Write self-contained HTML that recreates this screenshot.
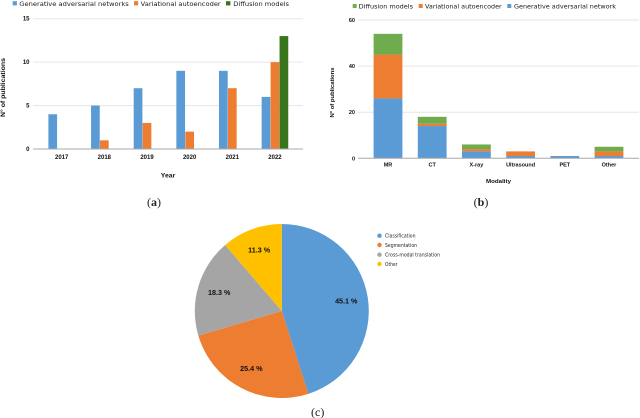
<!DOCTYPE html>
<html>
<head>
<meta charset="utf-8">
<title>Publications charts</title>
<style>
html,body{margin:0;padding:0;background:#fff;}
#fig{display:block;width:640px;height:418px;}
text{font-family:"DejaVu Sans","Liberation Sans",sans-serif;fill:#1c1c1c;}
.b{font-family:"Liberation Sans",sans-serif;font-weight:bold;fill:#111;}
.cap{font-family:"Liberation Serif",serif;font-size:12px;fill:#222;}
</style>
</head>
<body>
<svg id="fig" xmlns="http://www.w3.org/2000/svg" width="640" height="418" viewBox="0 0 640 418">
  <g id="chartA" style="filter:blur(.35px)">
    <rect x="12.7" y="1.2" width="4.2" height="4.2" fill="#5b9bd5"/>
    <text x="19.3" y="6" font-size="6.4" textLength="109.4" lengthAdjust="spacingAndGlyphs">Generative adversarial networks</text>
    <rect x="134" y="1.2" width="4.2" height="4.2" fill="#ed7d31"/>
    <text x="140.7" y="6" font-size="6.4" textLength="80" lengthAdjust="spacingAndGlyphs">Variational autoencoder</text>
    <rect x="226" y="1.2" width="4.4" height="4.2" fill="#38761d"/>
    <text x="233.3" y="6" font-size="6.4" textLength="55.7" lengthAdjust="spacingAndGlyphs">Diffusion models</text>
    <text class="b" x="168" y="177.5" font-size="6" text-anchor="middle" textLength="14.5" lengthAdjust="spacingAndGlyphs">Year</text>
    <text class="b" x="5" y="87.5" font-size="6" text-anchor="middle" textLength="59" lengthAdjust="spacingAndGlyphs" transform="rotate(-90 5 87.5)">N° of publications</text>
  </g>
  <g id="chartB" style="filter:blur(.35px)">
    <rect x="352.7" y="4" width="4" height="4" fill="#70ad47"/>
    <text x="358.7" y="8.3" font-size="6.4" textLength="54.3" lengthAdjust="spacingAndGlyphs">Diffusion models</text>
    <rect x="418.7" y="4" width="4" height="4" fill="#ed7d31"/>
    <text x="425" y="8.3" font-size="6.4" textLength="76.7" lengthAdjust="spacingAndGlyphs">Variational autoencoder</text>
    <rect x="507.3" y="4" width="4" height="4" fill="#5b9bd5"/>
    <text x="514" y="8.3" font-size="6.4" textLength="102" lengthAdjust="spacingAndGlyphs">Generative adversarial network</text>
    <text class="b" x="498.5" y="183" font-size="5.5" text-anchor="middle" textLength="25" lengthAdjust="spacingAndGlyphs">Modality</text>
    <text class="b" x="334" y="92.5" font-size="5.5" text-anchor="middle" textLength="50" lengthAdjust="spacingAndGlyphs" transform="rotate(-90 334 92.5)">N° of publications</text>
  </g>
  <g id="chartC" style="filter:blur(.3px)">
    <circle cx="379.5" cy="235.7" r="2.2" fill="#5b9bd5"/>
    <text x="385" y="237.5" font-size="4.8" textLength="30.5" lengthAdjust="spacingAndGlyphs">Classification</text>
    <circle cx="379.5" cy="245" r="2.2" fill="#ed7d31"/>
    <text x="385" y="247" font-size="4.8" textLength="32" lengthAdjust="spacingAndGlyphs">Segmentation</text>
    <circle cx="379.5" cy="254.7" r="2.2" fill="#a5a5a5"/>
    <text x="385" y="256.5" font-size="4.8" textLength="55" lengthAdjust="spacingAndGlyphs">Cross-modal translation</text>
    <circle cx="379.5" cy="264" r="2.2" fill="#ffc000"/>
    <text x="385" y="266" font-size="4.8" textLength="12.5" lengthAdjust="spacingAndGlyphs">Other</text>
  </g>
  <text class="cap" x="154" y="206" text-anchor="middle">(<tspan font-weight="bold">a</tspan>)</text>
  <text class="cap" x="481" y="206" text-anchor="middle">(<tspan font-weight="bold">b</tspan>)</text>
  <text class="cap" x="317.7" y="416" text-anchor="middle">(c)</text>
</svg>
<script>
var yearCategories = ['2017','2018','2019','2020','2021','2022'];
var ganByYear = [4,5,7,9,9,6];
var vaeByYear = [0,1,3,2,7,10];
var diffusionByYear = [0,0,0,0,0,13];
var yearTicks = [0,5,10,15];

var modalityCategories = ['MR','CT','X-ray','Ultrasound','PET','Other'];
var ganByModality = [26,14,3,1,1,1];
var vaeByModality = [19,1,1,2,0,2];
var diffusionByModality = [9,3,2,0,0,2];
var modalityTicks = [0,20,40,60];

var pieLabels = ['Classification','Segmentation','Cross-modal translation','Other'];
var pieValues = [45.1,25.4,18.3,11.3];

var NS = 'http://www.w3.org/2000/svg';
function mk(tag, attrs, parent, txt) {
  var el = document.createElementNS(NS, tag);
  for (var k in attrs) el.setAttribute(k, attrs[k]);
  if (txt !== undefined) el.textContent = txt;
  parent.appendChild(el);
  return el;
}
var gA = document.getElementById('chartA');
var gB = document.getElementById('chartB');
var gC = document.getElementById('chartC');

/* ---- chart a axes ---- */
function yA(v) { return 149 - v * (149 - 18.7) / 15; }
function xA(i) { return 61.7 + i * 42.65; }
yearTicks.forEach(function (t) {
  if (t > 0) {
    var line = mk('line', {x1: 33, x2: 303, y1: yA(t), y2: yA(t), stroke: '#e6e6e6', 'stroke-width': 1}, gA);
    
    
  }
  var lab = mk('text', {x: 29.5, y: yA(t) + 2, 'font-size': 6, 'text-anchor': 'end', 'class': 'b'}, gA, t);
  
  
});
var seriesA = [
  {vals: ganByYear, color: '#5b9bd5', off: -13.3},
  {vals: vaeByYear, color: '#ed7d31', off: -4.35},
  {vals: diffusionByYear, color: '#38761d', off: 4.6}
];
yearCategories.forEach(function (c, i) {
  seriesA.forEach(function (s) {
    var v = s.vals[i];
    if (v <= 0) return;
    var bar = mk('rect', {x: xA(i) + s.off, y: yA(v), width: 8.7, height: yA(0) - yA(v), fill: s.color}, gA);
    
    
  });
  var lab = mk('text', {x: xA(i), y: 158.8, 'font-size': 6, 'text-anchor': 'middle', 'class': 'b'}, gA, c);
  
  
});
var axisA = mk('line', {x1: 33, x2: 303, y1: 149, y2: 149, stroke: '#a8a8a8', 'stroke-width': 1}, gA);



/* ---- chart b axes ---- */
function yB(v) { return 158.3 - v * (158.3 - 20) / 60; }
function xB(i) { return 388 + i * 44.2; }
modalityTicks.forEach(function (t) {
  if (t > 0) {
    var line = mk('line', {x1: 358, x2: 639, y1: yB(t), y2: yB(t), stroke: '#e6e6e6', 'stroke-width': 1}, gB);
    
    
  }
  var lab = mk('text', {x: 355, y: yB(t) + 2, 'font-size': 5.5, 'text-anchor': 'end', 'class': 'b'}, gB, t);
  
  
});
var seriesB = [
  {vals: ganByModality, color: '#5b9bd5'},
  {vals: vaeByModality, color: '#ed7d31'},
  {vals: diffusionByModality, color: '#6fac4d'}
];
modalityCategories.forEach(function (c, i) {
  var base = 0;
  seriesB.forEach(function (s) {
    var v = s.vals[i];
    if (v > 0) {
      var seg = mk('rect', {x: xB(i) - 14.4, y: yB(base + v), width: 28.8, height: yB(base) - yB(base + v), fill: s.color}, gB);
      
      
    }
    base += v;
  });
  var lab = mk('text', {x: xB(i), y: 166.5, 'font-size': 5.5, 'text-anchor': 'middle', 'class': 'b'}, gB, c);
  
  
});
var axisB = mk('line', {x1: 358, x2: 639, y1: 158.3, y2: 158.3, stroke: '#a8a8a8', 'stroke-width': 1}, gB);



/* ---- pie ---- */
var pieColors = ['#5b9bd5', '#ed7d31', '#a5a5a5', '#ffc000'];
var cx = 281.8, cy = 311, R = 87;
var total = pieValues.reduce(function (a, b) { return a + b; }, 0);
var acc = 0;
pieValues.forEach(function (v, i) {
  var a0 = acc / total * 2 * Math.PI;
  acc += v;
  var a1 = acc / total * 2 * Math.PI;
  var large = a1 - a0 > Math.PI ? 1 : 0;
  var d = 'M' + cx + ' ' + cy +
    'L' + (cx + R * Math.sin(a0)) + ' ' + (cy - R * Math.cos(a0)) +
    'A' + R + ' ' + R + ' 0 ' + large + ' 1 ' + (cx + R * Math.sin(a1)) + ' ' + (cy - R * Math.cos(a1)) + 'Z';
  var slice = mk('path', {d: d, fill: pieColors[i]}, gC);
  
  
});
acc = 0;
pieValues.forEach(function (v, i) {
  var mid = (acc + v / 2) / total * 2 * Math.PI;
  acc += v;
  var r = R * 0.75;
  var lab = mk('text', {x: cx + r * Math.sin(mid), y: cy - r * Math.cos(mid) + 2.5, 'font-size': 7.2, 'text-anchor': 'middle', 'class': 'b'}, gC, v.toFixed(1) + ' %');
  
  
});
</script>
</body>
</html>
